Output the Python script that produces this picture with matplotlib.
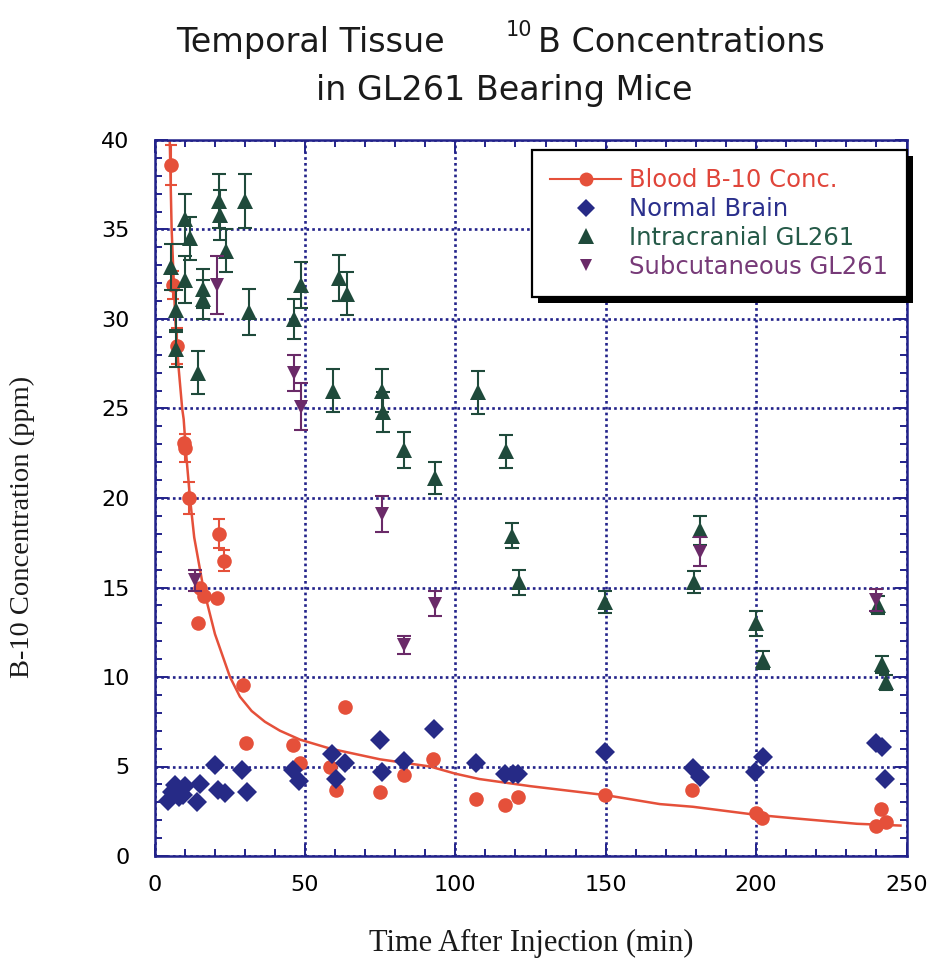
import matplotlib
matplotlib.use("Agg")
import matplotlib.pyplot as plt
from matplotlib.lines import Line2D
from matplotlib.patches import Rectangle
from matplotlib.transforms import IdentityTransform
from matplotlib.ticker import MultipleLocator

# ---------------- data ----------------
blood_x   = [5.5, 6.2, 7.5, 9.7, 10.3, 11.4, 15.1, 16.4, 14.4, 20.8, 21.3, 23.2,
             29.4, 30.5, 46.0, 48.5, 58.4, 60.4, 63.4, 75.0, 82.8, 92.7, 106.9,
             116.4, 120.8, 149.7, 178.8, 200.0, 202.0, 239.8, 241.5, 243.2]
blood_y   = [38.6, 31.9, 28.5, 23.1, 22.8, 20.0, 15.0, 14.5, 13.0, 14.4, 18.0, 16.5,
             9.55, 6.3, 6.2, 5.2, 5.0, 3.7, 8.3, 3.6, 4.5, 5.4, 3.2,
             2.85, 3.3, 3.4, 3.7, 2.4, 2.1, 1.7, 2.65, 1.9]
blood_err = [1.1, 0.8, 1.0, 0.0, 0.8, 0.9, 0.0, 0.0, 0.0, 0.0, 0.8, 0.6,
             0.0, 0.0, 0.0, 0.0, 0.0, 0.0, 0.0, 0.0, 0.0, 0.0, 0.0,
             0.0, 0.0, 0.0, 0.0, 0.0, 0.0, 0.0, 0.0, 0.0]

curve_x = [5.0, 5.7, 6.9, 8.0, 9.2, 9.7, 10.5, 11.8, 13.2, 16.2, 20.1, 25.1,
           28.4, 32.3, 36.7, 41.7, 48.4, 58.4, 75.0, 91.6, 100.0, 108.0, 125.0,
           150.0, 168.0, 179.0, 200.0, 213.0, 233.5, 248.0]
curve_y = [40.5, 35.0, 30.0, 27.3, 25.0, 24.4, 22.5, 20.0, 17.8, 15.0, 12.4, 10.0,
           8.9, 8.1, 7.5, 7.0, 6.5, 6.0, 5.4, 5.0, 4.6, 4.3, 3.9,
           3.4, 2.9, 2.75, 2.3, 2.1, 1.8, 1.7]

brain_x = [4.6, 5.9, 6.8, 8.0, 9.6, 10.1, 14.0, 15.1, 20.1, 21.2, 23.4, 29.0, 30.6,
           46.2, 48.0, 59.0, 60.4, 63.4, 75.0, 75.6, 82.8, 92.9, 106.9,
           116.4, 119.2, 121.0, 149.7, 179.0, 181.2, 199.8, 202.2, 239.8, 242.0, 242.9]
brain_y = [3.1, 3.6, 3.96, 3.3, 3.4, 3.9, 3.0, 4.0, 5.1, 3.7, 3.5, 4.8, 3.6,
           4.8, 4.2, 5.7, 4.3, 5.2, 6.5, 4.7, 5.3, 7.1, 5.2,
           4.6, 4.6, 4.6, 5.8, 4.9, 4.4, 4.7, 5.55, 6.3, 6.1, 4.3]

ic_x   = [5.5, 10.3, 11.7, 10.3, 16.2, 16.2, 7.0, 7.0, 14.5, 21.3, 21.9, 23.9,
          30.2, 31.3, 48.7, 46.5, 61.2, 64.0, 59.5, 75.6, 76.1, 83.0, 93.3,
          107.4, 117.0, 118.8, 121.1, 149.7, 181.4, 179.2, 200.0, 202.2,
          240.4, 241.8, 243.2]
ic_y   = [32.9, 35.6, 34.5, 32.2, 31.7, 31.1, 30.5, 28.3, 27.0, 36.6, 35.8, 33.8,
          36.6, 30.4, 31.9, 30.0, 32.3, 31.4, 26.0, 26.0, 24.8, 22.7, 21.1,
          25.9, 22.6, 17.9, 15.3, 14.2, 18.2, 15.3, 13.0, 10.95,
          14.0, 10.7, 9.7]
ic_err = [1.3, 1.4, 1.2, 1.3, 1.1, 1.1, 1.1, 1.0, 1.2, 1.5, 1.4, 1.2,
          1.5, 1.3, 1.3, 1.1, 1.3, 1.2, 1.2, 1.2, 1.1, 1.0, 0.9,
          1.2, 0.9, 0.7, 0.7, 0.6, 0.8, 0.6, 0.7, 0.5,
          0.5, 0.5, 0.4]

sc_x   = [13.6, 20.8, 46.5, 48.7, 75.6, 83.0, 93.3, 181.4, 240.0]
sc_y   = [15.4, 31.9, 27.0, 25.1, 19.1, 11.8, 14.1, 17.0, 14.3]
sc_err = [0.6, 1.6, 1.0, 1.3, 1.0, 0.5, 0.7, 0.8, 0.6]

legend_labels = ["Blood B-10 Conc.", "Normal Brain", "Intracranial GL261",
                 "Subcutaneous GL261"]
x_ticks = [0, 50, 100, 150, 200, 250]
y_ticks = [0, 5, 10, 15, 20, 25, 30, 35, 40]

# ---------------- styles ----------------
RED = "#e5503a"
NAVY = "#262a86"
GREEN = "#1f4a3b"
PURPLE = "#6a2a68"
AXC = "#22228a"
LEG_COLORS = ["#e0453a", "#2a2f8c", "#255a48", "#773a78"]

plt.rcParams["font.family"] = ["DejaVu Sans"]

W, H = 931, 963
fig = plt.figure(figsize=(W / 100, H / 100), dpi=100)
L, R, T, B = 154.5, 906.5, 140, 856
ax = fig.add_axes([L / W, 1 - B / H, (R - L) / W, (B - T) / H])

ax.set_xlim(0, 250)
ax.set_ylim(0, 40)
ax.set_xticks(x_ticks)
ax.set_yticks(y_ticks)
ax.xaxis.set_minor_locator(MultipleLocator(10))
ax.yaxis.set_minor_locator(MultipleLocator(1))
ax.tick_params(which="both", direction="in", top=True, right=True,
               color=AXC, width=1.4, labelsize=16)
ax.tick_params(which="major", length=9)
ax.tick_params(which="minor", length=5)
ax.tick_params(axis="y", pad=18)
ax.tick_params(axis="x", pad=14)
for s in ax.spines.values():
    s.set_color(AXC)
    s.set_linewidth(1.8)
ax.grid(which="major", color=AXC, linestyle=(0, (1, 1.2)), linewidth=1.9)
ax.set_axisbelow(True)

# blood fit curve
ax.plot(curve_x, curve_y, color=RED, lw=1.8, zorder=2)

# blood points
be_x = [x for x, e in zip(blood_x, blood_err) if e > 0]
be_y = [y for y, e in zip(blood_y, blood_err) if e > 0]
be_e = [e for e in blood_err if e > 0]
ax.errorbar(be_x, be_y, yerr=be_e, fmt="none", ecolor=RED, elinewidth=1.5,
            capsize=4, capthick=1.5, zorder=3)
ax.plot(blood_x, blood_y, "o", color=RED, ms=10.5, mew=0, zorder=3)

# normal brain
ax.plot(brain_x, brain_y, "D", color=NAVY, ms=10, mew=0, zorder=4)

# intracranial
ax.errorbar(ic_x, ic_y, yerr=ic_err, fmt="none", ecolor=GREEN, elinewidth=1.5,
            capsize=5, capthick=1.5, zorder=5)
ax.plot(ic_x, ic_y, "^", color=GREEN, ms=12, mew=0, zorder=5)

# subcutaneous
ax.errorbar(sc_x, sc_y, yerr=sc_err, fmt="none", ecolor=PURPLE, elinewidth=1.5,
            capsize=5, capthick=1.5, zorder=6)
ax.plot(sc_x, sc_y, "v", color=PURPLE, ms=10, mew=0, zorder=6)

# legend
handles = [
    Line2D([], [], color=RED, marker="o", lw=1.5, ms=10, mew=0),
    Line2D([], [], color=NAVY, marker="D", lw=0, ms=9, mew=0),
    Line2D([], [], color=GREEN, marker="^", lw=0, ms=11, mew=0),
    Line2D([], [], color=PURPLE, marker="v", lw=0, ms=9, mew=0),
]
leg = ax.legend(handles, legend_labels, loc="upper right",
                bbox_to_anchor=(1.0, 1 - 10 / (B - T)), borderaxespad=0,
                fontsize=17.5, handlelength=2.9, handletextpad=0.35,
                labelspacing=0.2, borderpad=0.75, fancybox=False,
                framealpha=1, edgecolor="black")
leg.get_frame().set_linewidth(1.6)
leg.set_zorder(10)
for t, c in zip(leg.get_texts(), LEG_COLORS):
    t.set_color(c)

# titles / labels
fig.text(445 / W, 1 - 52 / H, "Temporal Tissue", ha="right", va="baseline",
         fontsize=24, color="#1a1a1a")
fig.text(506 / W, 1 - 36 / H, "10", ha="left", va="baseline",
         fontsize=15, color="#1a1a1a")
fig.text(538 / W, 1 - 52 / H, "B Concentrations", ha="left", va="baseline",
         fontsize=24, color="#1a1a1a")
fig.text(504 / W, 1 - 100 / H, "in GL261 Bearing Mice", ha="center",
         va="baseline", fontsize=24, color="#1a1a1a")
fig.text(22 / W, 1 - 527 / H, "B-10 Concentration (ppm)", rotation=90,
         ha="center", va="center", fontsize=20.5, family="Liberation Serif",
         color="#1a1a1a")
fig.text(531 / W, 1 - 943 / H, "Time After Injection (min)", ha="center",
         va="center", fontsize=22, family="Liberation Serif", color="#1a1a1a")

# solid black drop shadow for the legend box
fig.canvas.draw()
bb = leg.get_frame().get_window_extent()
shadow = Rectangle((bb.x0 + 6, bb.y0 - 6), bb.width, bb.height,
                   transform=IdentityTransform(), facecolor="black",
                   edgecolor="none", zorder=9)
ax.add_artist(shadow)
shadow.set_clip_on(False)

fig.savefig("out.png", dpi=100)
